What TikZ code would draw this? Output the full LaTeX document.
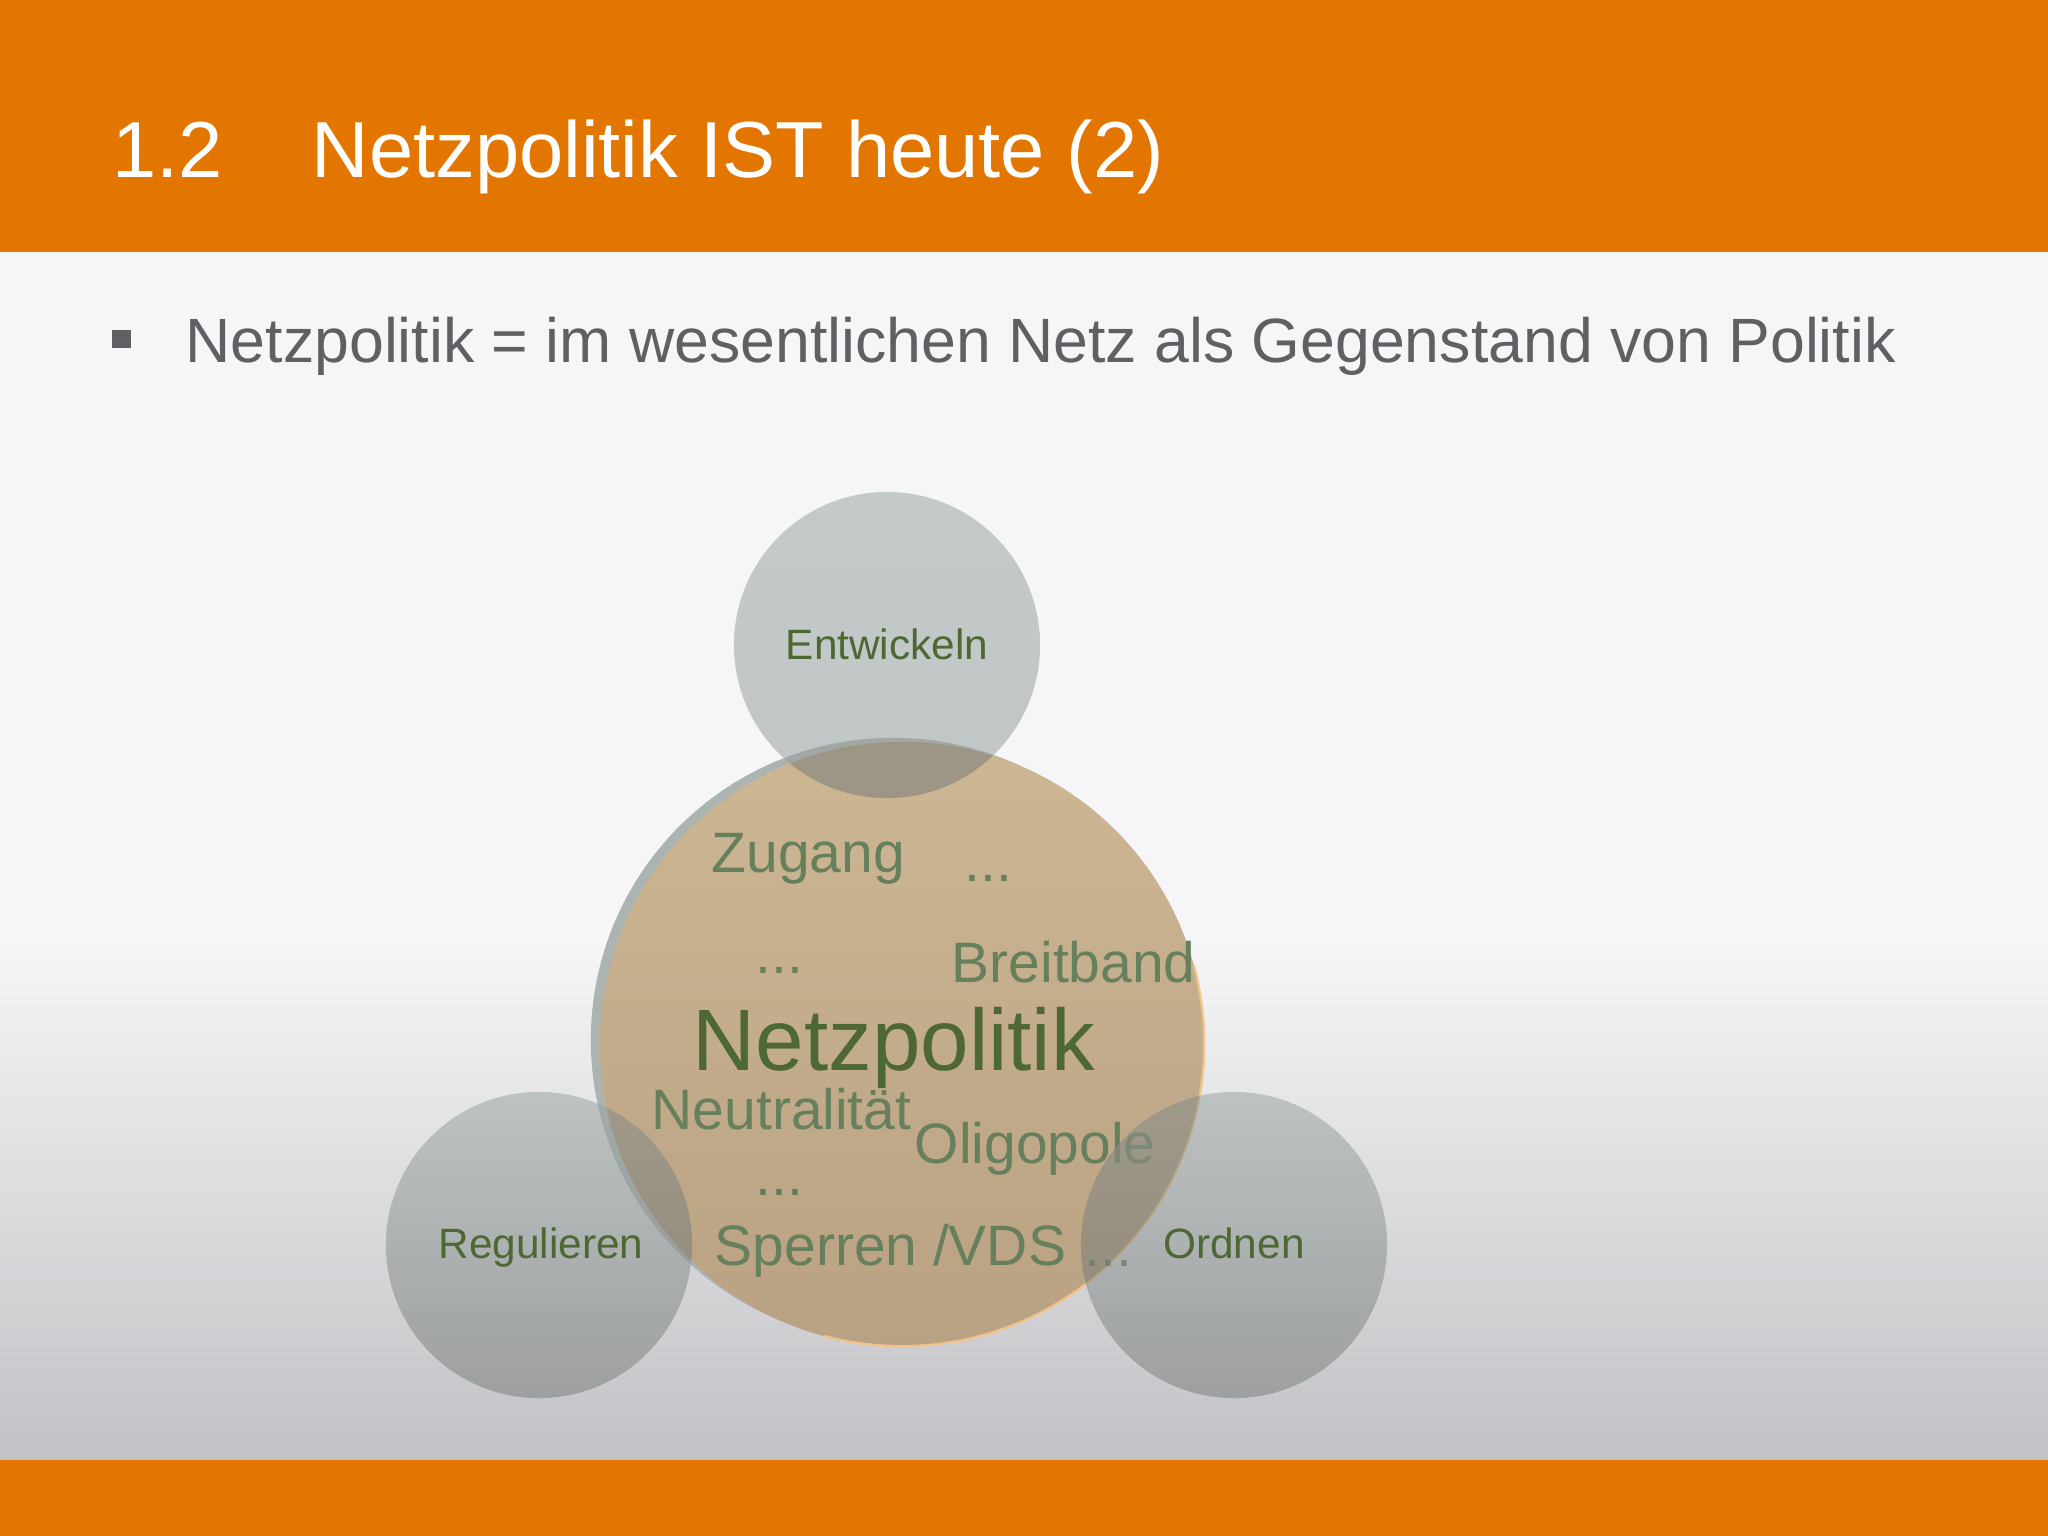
\documentclass[tikz,border=0pt]{standalone}
\usepackage{fontspec}
\setmainfont{Liberation Sans}
\usetikzlibrary{calc}
\definecolor{barorange}{RGB}{227,118,0}
\definecolor{bgtop}{RGB}{246,246,248}
\definecolor{bgbot}{RGB}{194,194,198}
\definecolor{bodygray}{RGB}{95,95,100}
\definecolor{labgreen}{RGB}{78,104,52}
\definecolor{wordgreen}{RGB}{102,127,92}
\definecolor{ringgray}{RGB}{172,180,178}
\definecolor{ortop}{RGB}{205,183,147}
\definecolor{orbot}{RGB}{185,161,131}
\definecolor{orrim}{RGB}{243,196,138}
\definecolor{ctop}{RGB}{155,166,162}
\definecolor{cmid}{RGB}{150,158,156}
\definecolor{cbot}{RGB}{122,126,126}
\definecolor{ovl}{RGB}{120,108,92}
\tikzset{
  titlefont/.style={font=\fontsize{22.6pt}{27pt}\selectfont, text=white, inner sep=0pt},
  bodyfont/.style={font=\fontsize{17.8pt}{21pt}\selectfont, text=bodygray, inner sep=0pt},
  circlabel/.style={font=\fontsize{12.05pt}{14pt}\selectfont, text=labgreen, inner sep=0pt, anchor=base},
  word/.style={font=\fontsize{16.2pt}{19pt}\selectfont, text=wordgreen, inner sep=0pt, anchor=base west},
  bigword/.style={font=\fontsize{24.8pt}{29pt}\selectfont, text=labgreen, inner sep=0pt, anchor=base west},
}
\begin{document}
\begin{tikzpicture}[x=0.01cm,y=-0.01cm]
\useasboundingbox (0,0) rectangle (2048,1536);
% background
\fill[bgtop] (0,250) rectangle (2048,940);
\shade[top color=bgtop,bottom color=bgbot] (0,939) rectangle (2048,1462);
\fill[barorange] (0,0) rectangle (2048,252);
\fill[barorange] (0,1460) rectangle (2048,1536);
% title and bullet
\node[titlefont, anchor=base west] (num) at (112,177) {1.2};
\node[titlefont, anchor=base west] (title) at (311,177) {Netzpolitik IST heute (2)};
\fill[bodygray] (112,330) rectangle (131,348);
\node[bodyfont, anchor=base west] (bullet) at (185,362) {Netzpolitik = im wesentlichen Netz als Gegenstand von Politik};
% circle centres
\coordinate (cbig) at (902,1044);
\coordinate (cback) at (893,1040);
\coordinate (ctopc) at (887,645);
\coordinate (cleft) at (539,1245);
\coordinate (cright) at (1234,1245);
% big circle
\fill[ringgray] (cback) circle [radius=3.02cm];
\shade[top color=ortop,bottom color=orbot] (cbig) circle [radius=3.02cm];
\draw[orrim, line width=0.7pt, opacity=0.9] ($(cbig)+(15:3.02cm)$) arc [start angle=15, end angle=-105, radius=3.02cm];
% inner words
\node[word] (zugang) at (711,872) {Zugang};
\node[word] (dots1) at (964,881) {...};
\node[word] (dots2) at (755,973) {...};
\node[word] (breit) at (951,982) {Breitband};
\node[bigword] (netz) at (692,1070) {Netzpolitik};
\node[word] (neutr) at (651,1129) {Neutralität};
\node[word] (olig) at (914,1163) {Oligopole};
\node[word] (dots3) at (755,1195) {...};
\node[word] (sperr) at (714,1265) {Sperren /VDS};
\node[word] (dots4) at (1084,1266) {...};
% small circles
\shade[top color=ctop,bottom color=cmid,opacity=0.55] (ctopc) circle [radius=1.53cm];
\shade[top color=ctop,bottom color=cbot,opacity=0.55] (cleft) circle [radius=1.53cm];
\shade[top color=ctop,bottom color=cbot,opacity=0.55] (cright) circle [radius=1.53cm];
\begin{scope}
\clip (cbig) circle [radius=3.02cm];
\fill[ovl,opacity=0.3] (ctopc) circle [radius=1.53cm];
\fill[ovl,opacity=0.22] (cleft) circle [radius=1.53cm];
\fill[ovl,opacity=0.22] (cright) circle [radius=1.53cm];
\end{scope}
% labels
\node[circlabel] (entw) at (887,659) {Entwickeln};
\node[circlabel] (reg) at (541,1258) {Regulieren};
\node[circlabel] (ord) at (1234,1258) {Ordnen};
\end{tikzpicture}
\end{document}
